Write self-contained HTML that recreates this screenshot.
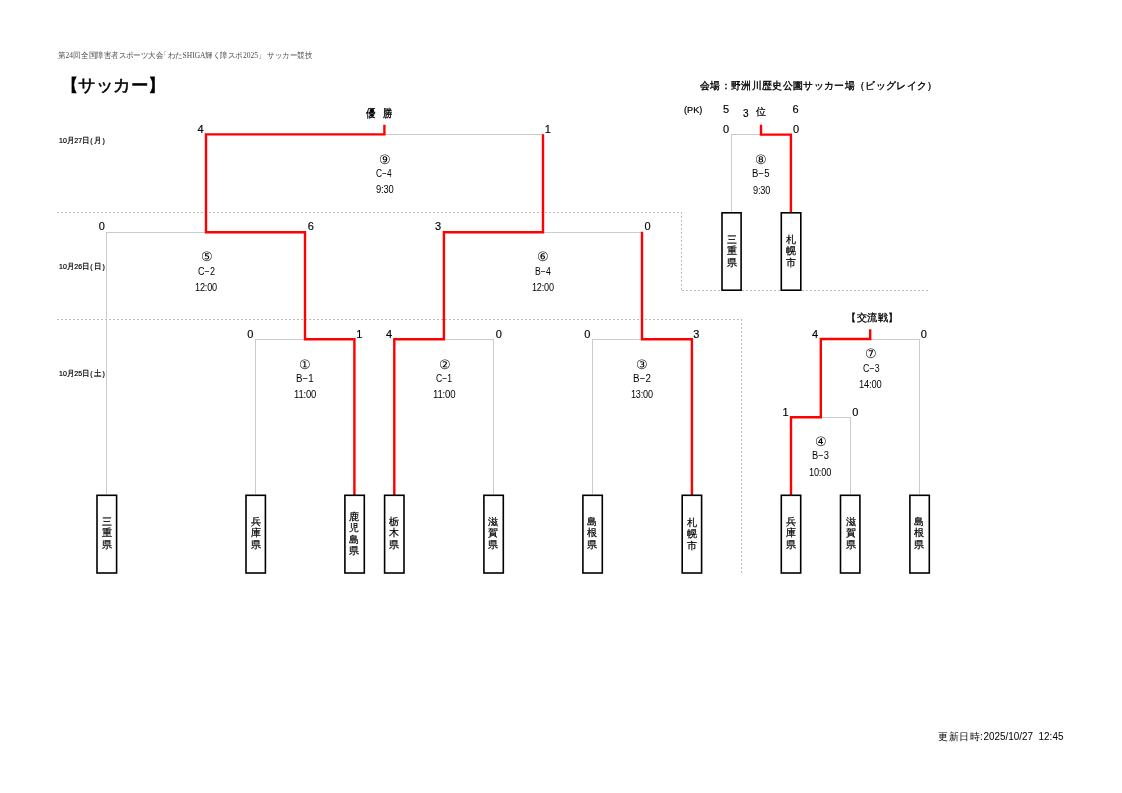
<!DOCTYPE html>
<html><head><meta charset="utf-8"><style>
html,body{margin:0;padding:0;background:#fff;}
body{width:1122px;height:793px;position:relative;overflow:hidden;font-family:"Liberation Sans",sans-serif;color:#000;will-change:transform;}
svg{position:absolute;left:0;top:0;}
.t{position:absolute;white-space:nowrap;line-height:1;}
</style></head><body>
<svg width="1122" height="793" viewBox="0 0 1122 793">
<line x1="57" y1="212.5" x2="682" y2="212.5" stroke="#bdbdbd" stroke-width="1" stroke-dasharray="2 2"/>
<line x1="681.5" y1="212" x2="681.5" y2="291" stroke="#bdbdbd" stroke-width="1" stroke-dasharray="2 2"/>
<line x1="682" y1="290.5" x2="930" y2="290.5" stroke="#bdbdbd" stroke-width="1" stroke-dasharray="2 2"/>
<line x1="57" y1="319.5" x2="741" y2="319.5" stroke="#bdbdbd" stroke-width="1" stroke-dasharray="2 2"/>
<line x1="741.5" y1="319" x2="741.5" y2="573" stroke="#bdbdbd" stroke-width="1" stroke-dasharray="2 2"/>
<rect x="206" y="134" width="338" height="1" fill="#cbcbcb"/>
<rect x="206" y="134" width="1" height="98" fill="#cbcbcb"/>
<rect x="543" y="134" width="1" height="98" fill="#cbcbcb"/>
<rect x="106" y="232" width="200" height="1" fill="#cbcbcb"/>
<rect x="106" y="232" width="1" height="262" fill="#cbcbcb"/>
<rect x="305" y="232" width="1" height="107" fill="#cbcbcb"/>
<rect x="443" y="232" width="199" height="1" fill="#cbcbcb"/>
<rect x="443" y="232" width="1" height="107" fill="#cbcbcb"/>
<rect x="641" y="232" width="1" height="107" fill="#cbcbcb"/>
<rect x="255" y="339" width="100" height="1" fill="#cbcbcb"/>
<rect x="255" y="339" width="1" height="155" fill="#cbcbcb"/>
<rect x="354" y="339" width="1" height="155" fill="#cbcbcb"/>
<rect x="394" y="339" width="100" height="1" fill="#cbcbcb"/>
<rect x="394" y="339" width="1" height="155" fill="#cbcbcb"/>
<rect x="493" y="339" width="1" height="155" fill="#cbcbcb"/>
<rect x="592" y="339" width="100" height="1" fill="#cbcbcb"/>
<rect x="592" y="339" width="1" height="155" fill="#cbcbcb"/>
<rect x="691" y="339" width="1" height="155" fill="#cbcbcb"/>
<rect x="731" y="134" width="60" height="1" fill="#cbcbcb"/>
<rect x="731" y="134" width="1" height="78" fill="#cbcbcb"/>
<rect x="790" y="134" width="1" height="78" fill="#cbcbcb"/>
<rect x="821" y="339" width="99" height="1" fill="#cbcbcb"/>
<rect x="821" y="339" width="1" height="78" fill="#cbcbcb"/>
<rect x="919" y="339" width="1" height="155" fill="#cbcbcb"/>
<rect x="791" y="417" width="60" height="1" fill="#cbcbcb"/>
<rect x="791" y="417" width="1" height="77" fill="#cbcbcb"/>
<rect x="850" y="417" width="1" height="77" fill="#cbcbcb"/>
<path d="M354.4 495 L354.4 339.3 L305 339.3 L305 232.2 L206 232.2 L206 134.4 L384.4 134.4 L384.4 126" fill="none" stroke="#ff0000" stroke-width="2.4" stroke-linecap="square" stroke-linejoin="miter"/>
<path d="M394.3 495 L394.3 339.3 L443.9 339.3 L443.9 232.2 L543 232.2 L543 135.5" fill="none" stroke="#ff0000" stroke-width="2.4" stroke-linecap="square" stroke-linejoin="miter"/>
<path d="M691.9 495 L691.9 339.3 L642 339.3 L642 233" fill="none" stroke="#ff0000" stroke-width="2.4" stroke-linecap="square" stroke-linejoin="miter"/>
<path d="M790.9 213 L790.9 134.6 L761 134.6 L761 126" fill="none" stroke="#ff0000" stroke-width="2.4" stroke-linecap="square" stroke-linejoin="miter"/>
<path d="M791 495 L791 417.2 L820.8 417.2 L820.8 339.0 L870.2 339.0 L870.2 330.5" fill="none" stroke="#ff0000" stroke-width="2.4" stroke-linecap="square" stroke-linejoin="miter"/>
<rect x="97.0" y="495.3" width="19.6" height="77.69999999999996" fill="#fff" stroke="#000" stroke-width="1.6"/>
<rect x="246.0" y="495.3" width="19.4" height="77.69999999999996" fill="#fff" stroke="#000" stroke-width="1.6"/>
<rect x="344.90000000000003" y="495.3" width="19.4" height="77.69999999999996" fill="#fff" stroke="#000" stroke-width="1.6"/>
<rect x="384.6" y="495.3" width="19.4" height="77.69999999999996" fill="#fff" stroke="#000" stroke-width="1.6"/>
<rect x="483.90000000000003" y="495.3" width="19.4" height="77.69999999999996" fill="#fff" stroke="#000" stroke-width="1.6"/>
<rect x="582.9" y="495.3" width="19.4" height="77.69999999999996" fill="#fff" stroke="#000" stroke-width="1.6"/>
<rect x="682.1999999999999" y="495.3" width="19.4" height="77.69999999999996" fill="#fff" stroke="#000" stroke-width="1.6"/>
<rect x="781.3" y="495.3" width="19.4" height="77.69999999999996" fill="#fff" stroke="#000" stroke-width="1.6"/>
<rect x="840.5" y="495.3" width="19.4" height="77.69999999999996" fill="#fff" stroke="#000" stroke-width="1.6"/>
<rect x="909.9" y="495.3" width="19.4" height="77.69999999999996" fill="#fff" stroke="#000" stroke-width="1.6"/>
<rect x="722.0" y="212.8" width="19.09999999999993" height="77.4" fill="#fff" stroke="#000" stroke-width="1.6"/>
<rect x="781.3" y="212.8" width="19.50000000000002" height="77.4" fill="#fff" stroke="#000" stroke-width="1.6"/>
</svg>
<div class="t" id="t0" style="left:58.33px;top:52.00px;font-size:8px;font-family:'Liberation Serif',serif;color:#4a4a4a;transform:scale(0.9358,1.0000);transform-origin:0 0;">第24回&#8202;全国障害者スポーツ大会<span style="margin-left:-3.5px">「</span>わたSHIGA輝く障スポ2025」&nbsp;サッカー競技</div>
<div class="t" id="t1" style="left:60.62px;top:77.00px;font-size:17px;font-family:'Liberation Sans',sans-serif;-webkit-text-stroke:0.55px #000;transform:scale(1.0272,1.0000);transform-origin:0 0;">【サッカー】</div>
<div class="t" id="t2" style="left:699.82px;top:81.00px;font-size:9.5px;font-family:'Liberation Sans',sans-serif;-webkit-text-stroke:0.35px #000;letter-spacing:0.5px;transform:scale(0.9836,1.0000);transform-origin:0 0;">会場：野洲川歴史公園サッカー場（ビッグレイク）</div>
<div class="t" id="t3" style="left:365.79px;top:108.00px;font-size:10.5px;font-family:'Liberation Sans',sans-serif;-webkit-text-stroke:0.35px #000;transform:scale(0.8628,1.0000);transform-origin:0 0;">優&nbsp;&nbsp;&nbsp;勝</div>
<div class="t" id="t4" style="left:59.24px;top:137.00px;font-size:7.5px;font-family:'Liberation Sans',sans-serif;-webkit-text-stroke:0.2px #000;transform:scale(0.9368,1.0000);transform-origin:0 0;">10月27日<span style="margin:0 1.2px 0 0.8px">(</span>月<span style="margin-left:1.2px">)</span></div>
<div class="t" id="t5" style="left:59.24px;top:263.00px;font-size:7.5px;font-family:'Liberation Sans',sans-serif;-webkit-text-stroke:0.2px #000;transform:scale(0.9368,1.0000);transform-origin:0 0;">10月26日<span style="margin:0 1.2px 0 0.8px">(</span>日<span style="margin-left:1.2px">)</span></div>
<div class="t" id="t6" style="left:59.24px;top:370.00px;font-size:7.5px;font-family:'Liberation Sans',sans-serif;-webkit-text-stroke:0.2px #000;transform:scale(0.9368,1.0000);transform-origin:0 0;">10月25日<span style="margin:0 1.2px 0 0.8px">(</span>土<span style="margin-left:1.2px">)</span></div>
<div class="t" id="t7" style="left:683.71px;top:106.00px;font-size:9px;font-family:'Liberation Sans',sans-serif;-webkit-text-stroke:0.2px #000;transform:scale(1.0156,1.0000);transform-origin:0 0;">(PK)</div>
<div class="t" id="t8" style="left:723.00px;top:104.00px;font-size:11px;font-family:'Liberation Sans',sans-serif;-webkit-text-stroke:0.15px #000;">5</div>
<div class="t" id="t9" style="left:792.50px;top:104.00px;font-size:11px;font-family:'Liberation Sans',sans-serif;-webkit-text-stroke:0.15px #000;">6</div>
<div class="t" id="t10" style="left:743.00px;top:109.00px;font-size:10px;font-family:'Liberation Sans',sans-serif;-webkit-text-stroke:0.2px #000;">3</div>
<div class="t" id="t11" style="left:755.65px;top:107.00px;font-size:10px;font-family:'Liberation Sans',sans-serif;-webkit-text-stroke:0.25px #000;">位</div>
<div class="t" id="t12" style="left:845.79px;top:313.00px;font-size:9.5px;font-family:'Liberation Sans',sans-serif;-webkit-text-stroke:0.3px #000;letter-spacing:0.4px;transform:scale(1.0150,1.0000);transform-origin:0 0;">【交流戦】</div>
<div class="t" id="t13" style="left:938.20px;top:732.00px;font-size:10px;font-family:'Liberation Sans',sans-serif;transform:scale(0.9921,1.0000);transform-origin:0 0;"><span style="letter-spacing:0.6px">更新日時:</span>2025/10/27&nbsp;&nbsp;12:45</div>
<div class="t" id="t14" style="left:197.50px;top:124.00px;font-size:11px;font-family:'Liberation Sans',sans-serif;-webkit-text-stroke:0.15px #000;">4</div>
<div class="t" id="t15" style="left:544.65px;top:124.00px;font-size:11px;font-family:'Liberation Sans',sans-serif;-webkit-text-stroke:0.15px #000;">1</div>
<div class="t" id="t16" style="left:98.75px;top:221.00px;font-size:11px;font-family:'Liberation Sans',sans-serif;-webkit-text-stroke:0.15px #000;">0</div>
<div class="t" id="t17" style="left:307.65px;top:221.00px;font-size:11px;font-family:'Liberation Sans',sans-serif;-webkit-text-stroke:0.15px #000;">6</div>
<div class="t" id="t18" style="left:434.95px;top:221.00px;font-size:11px;font-family:'Liberation Sans',sans-serif;-webkit-text-stroke:0.15px #000;">3</div>
<div class="t" id="t19" style="left:644.50px;top:221.00px;font-size:11px;font-family:'Liberation Sans',sans-serif;-webkit-text-stroke:0.15px #000;">0</div>
<div class="t" id="t20" style="left:247.30px;top:329.00px;font-size:11px;font-family:'Liberation Sans',sans-serif;-webkit-text-stroke:0.15px #000;">0</div>
<div class="t" id="t21" style="left:356.20px;top:329.00px;font-size:11px;font-family:'Liberation Sans',sans-serif;-webkit-text-stroke:0.15px #000;">1</div>
<div class="t" id="t22" style="left:386.05px;top:329.00px;font-size:11px;font-family:'Liberation Sans',sans-serif;-webkit-text-stroke:0.15px #000;">4</div>
<div class="t" id="t23" style="left:495.75px;top:329.00px;font-size:11px;font-family:'Liberation Sans',sans-serif;-webkit-text-stroke:0.15px #000;">0</div>
<div class="t" id="t24" style="left:584.15px;top:329.00px;font-size:11px;font-family:'Liberation Sans',sans-serif;-webkit-text-stroke:0.15px #000;">0</div>
<div class="t" id="t25" style="left:693.35px;top:329.00px;font-size:11px;font-family:'Liberation Sans',sans-serif;-webkit-text-stroke:0.15px #000;">3</div>
<div class="t" id="t26" style="left:723.10px;top:124.00px;font-size:11px;font-family:'Liberation Sans',sans-serif;-webkit-text-stroke:0.15px #000;">0</div>
<div class="t" id="t27" style="left:793.10px;top:124.00px;font-size:11px;font-family:'Liberation Sans',sans-serif;-webkit-text-stroke:0.15px #000;">0</div>
<div class="t" id="t28" style="left:812.10px;top:329.00px;font-size:11px;font-family:'Liberation Sans',sans-serif;-webkit-text-stroke:0.15px #000;">4</div>
<div class="t" id="t29" style="left:920.85px;top:329.00px;font-size:11px;font-family:'Liberation Sans',sans-serif;-webkit-text-stroke:0.15px #000;">0</div>
<div class="t" id="t30" style="left:782.40px;top:407.00px;font-size:11px;font-family:'Liberation Sans',sans-serif;-webkit-text-stroke:0.15px #000;">1</div>
<div class="t" id="t31" style="left:852.20px;top:407.00px;font-size:11px;font-family:'Liberation Sans',sans-serif;-webkit-text-stroke:0.15px #000;">0</div>
<div class="t" id="t32" style="left:379.35px;top:153.00px;font-size:13px;font-family:'Liberation Sans',sans-serif;">⑨</div>
<div class="t" id="t33" style="left:376.32px;top:169.00px;font-size:10px;font-family:'Liberation Sans',sans-serif;letter-spacing:0.1px;transform:scale(0.8361,1.0000);transform-origin:0 0;">C−4</div>
<div class="t" id="t34" style="left:375.96px;top:185.00px;font-size:10px;font-family:'Liberation Sans',sans-serif;letter-spacing:-0.2px;transform:scale(0.9373,1.0000);transform-origin:0 0;">9:30</div>
<div class="t" id="t35" style="left:200.50px;top:250.00px;font-size:13px;font-family:'Liberation Sans',sans-serif;">⑤</div>
<div class="t" id="t36" style="left:197.94px;top:267.00px;font-size:10px;font-family:'Liberation Sans',sans-serif;letter-spacing:0.1px;transform:scale(0.8991,1.0000);transform-origin:0 0;">C−2</div>
<div class="t" id="t37" style="left:195.06px;top:283.00px;font-size:10px;font-family:'Liberation Sans',sans-serif;letter-spacing:-0.2px;transform:scale(0.9120,1.0000);transform-origin:0 0;">12:00</div>
<div class="t" id="t38" style="left:537.40px;top:250.00px;font-size:13px;font-family:'Liberation Sans',sans-serif;">⑥</div>
<div class="t" id="t39" style="left:535.22px;top:267.00px;font-size:10px;font-family:'Liberation Sans',sans-serif;letter-spacing:0.1px;transform:scale(0.8641,1.0000);transform-origin:0 0;">B−4</div>
<div class="t" id="t40" style="left:532.36px;top:283.00px;font-size:10px;font-family:'Liberation Sans',sans-serif;letter-spacing:-0.2px;transform:scale(0.9070,1.0000);transform-origin:0 0;">12:00</div>
<div class="t" id="t41" style="left:299.40px;top:358.00px;font-size:13px;font-family:'Liberation Sans',sans-serif;">①</div>
<div class="t" id="t42" style="left:296.22px;top:374.00px;font-size:10px;font-family:'Liberation Sans',sans-serif;letter-spacing:0.1px;transform:scale(0.9717,1.0000);transform-origin:0 0;">B−1</div>
<div class="t" id="t43" style="left:293.80px;top:390.00px;font-size:10px;font-family:'Liberation Sans',sans-serif;letter-spacing:-0.2px;transform:scale(0.9486,1.0000);transform-origin:0 0;">11:00</div>
<div class="t" id="t44" style="left:438.60px;top:358.00px;font-size:13px;font-family:'Liberation Sans',sans-serif;">②</div>
<div class="t" id="t45" style="left:435.73px;top:374.00px;font-size:10px;font-family:'Liberation Sans',sans-serif;letter-spacing:0.1px;transform:scale(0.8568,1.0000);transform-origin:0 0;">C−1</div>
<div class="t" id="t46" style="left:432.78px;top:390.00px;font-size:10px;font-family:'Liberation Sans',sans-serif;letter-spacing:-0.2px;transform:scale(0.9618,1.0000);transform-origin:0 0;">11:00</div>
<div class="t" id="t47" style="left:636.40px;top:358.00px;font-size:13px;font-family:'Liberation Sans',sans-serif;">③</div>
<div class="t" id="t48" style="left:633.08px;top:374.00px;font-size:10px;font-family:'Liberation Sans',sans-serif;letter-spacing:0.1px;transform:scale(0.9789,1.0000);transform-origin:0 0;">B−2</div>
<div class="t" id="t49" style="left:631.36px;top:390.00px;font-size:10px;font-family:'Liberation Sans',sans-serif;letter-spacing:-0.2px;transform:scale(0.9070,1.0000);transform-origin:0 0;">13:00</div>
<div class="t" id="t50" style="left:754.70px;top:153.00px;font-size:13px;font-family:'Liberation Sans',sans-serif;">⑧</div>
<div class="t" id="t51" style="left:752.46px;top:169.00px;font-size:10px;font-family:'Liberation Sans',sans-serif;letter-spacing:0.1px;transform:scale(0.9553,1.0000);transform-origin:0 0;">B−5</div>
<div class="t" id="t52" style="left:753.12px;top:186.00px;font-size:10px;font-family:'Liberation Sans',sans-serif;letter-spacing:-0.2px;transform:scale(0.9149,1.0000);transform-origin:0 0;">9:30</div>
<div class="t" id="t53" style="left:865.35px;top:347.00px;font-size:13px;font-family:'Liberation Sans',sans-serif;">⑦</div>
<div class="t" id="t54" style="left:862.71px;top:364.00px;font-size:10px;font-family:'Liberation Sans',sans-serif;letter-spacing:0.1px;transform:scale(0.8793,1.0000);transform-origin:0 0;">C−3</div>
<div class="t" id="t55" style="left:858.80px;top:380.00px;font-size:10px;font-family:'Liberation Sans',sans-serif;letter-spacing:-0.2px;transform:scale(0.9322,1.0000);transform-origin:0 0;">14:00</div>
<div class="t" id="t56" style="left:815.45px;top:435.00px;font-size:13px;font-family:'Liberation Sans',sans-serif;">④</div>
<div class="t" id="t57" style="left:811.83px;top:451.00px;font-size:10px;font-family:'Liberation Sans',sans-serif;letter-spacing:0.1px;transform:scale(0.9304,1.0000);transform-origin:0 0;">B−3</div>
<div class="t" id="t58" style="left:809.19px;top:468.00px;font-size:10px;font-family:'Liberation Sans',sans-serif;letter-spacing:-0.2px;transform:scale(0.9180,1.0000);transform-origin:0 0;">10:00</div>
<div class="t" id="t59" style="left:101.80px;top:516.00px;font-size:10px;font-family:'Liberation Sans',sans-serif;-webkit-text-stroke:0.22px #000;line-height:11.3px;text-align:center;">三<br>重<br>県</div>
<div class="t" id="t60" style="left:250.60px;top:516.00px;font-size:10px;font-family:'Liberation Sans',sans-serif;-webkit-text-stroke:0.22px #000;line-height:11.3px;text-align:center;">兵<br>庫<br>県</div>
<div class="t" id="t61" style="left:349.40px;top:511.00px;font-size:10px;font-family:'Liberation Sans',sans-serif;-webkit-text-stroke:0.22px #000;line-height:11.3px;text-align:center;">鹿<br>児<br>島<br>県</div>
<div class="t" id="t62" style="left:388.80px;top:516.00px;font-size:10px;font-family:'Liberation Sans',sans-serif;-webkit-text-stroke:0.22px #000;line-height:11.3px;text-align:center;">栃<br>木<br>県</div>
<div class="t" id="t63" style="left:488.40px;top:516.00px;font-size:10px;font-family:'Liberation Sans',sans-serif;-webkit-text-stroke:0.22px #000;line-height:11.3px;text-align:center;">滋<br>賀<br>県</div>
<div class="t" id="t64" style="left:587.40px;top:516.00px;font-size:10px;font-family:'Liberation Sans',sans-serif;-webkit-text-stroke:0.22px #000;line-height:11.3px;text-align:center;">島<br>根<br>県</div>
<div class="t" id="t65" style="left:687.00px;top:517.00px;font-size:10px;font-family:'Liberation Sans',sans-serif;-webkit-text-stroke:0.22px #000;line-height:11.3px;text-align:center;">札<br>幌<br>市</div>
<div class="t" id="t66" style="left:786.20px;top:516.00px;font-size:10px;font-family:'Liberation Sans',sans-serif;-webkit-text-stroke:0.22px #000;line-height:11.3px;text-align:center;">兵<br>庫<br>県</div>
<div class="t" id="t67" style="left:845.60px;top:516.00px;font-size:10px;font-family:'Liberation Sans',sans-serif;-webkit-text-stroke:0.22px #000;line-height:11.3px;text-align:center;">滋<br>賀<br>県</div>
<div class="t" id="t68" style="left:914.40px;top:516.00px;font-size:10px;font-family:'Liberation Sans',sans-serif;-webkit-text-stroke:0.22px #000;line-height:11.3px;text-align:center;">島<br>根<br>県</div>
<div class="t" id="t69" style="left:726.80px;top:234.00px;font-size:10px;font-family:'Liberation Sans',sans-serif;-webkit-text-stroke:0.22px #000;line-height:11.3px;text-align:center;">三<br>重<br>県</div>
<div class="t" id="t70" style="left:785.80px;top:234.00px;font-size:10px;font-family:'Liberation Sans',sans-serif;-webkit-text-stroke:0.22px #000;line-height:11.3px;text-align:center;">札<br>幌<br>市</div>
</body></html>
